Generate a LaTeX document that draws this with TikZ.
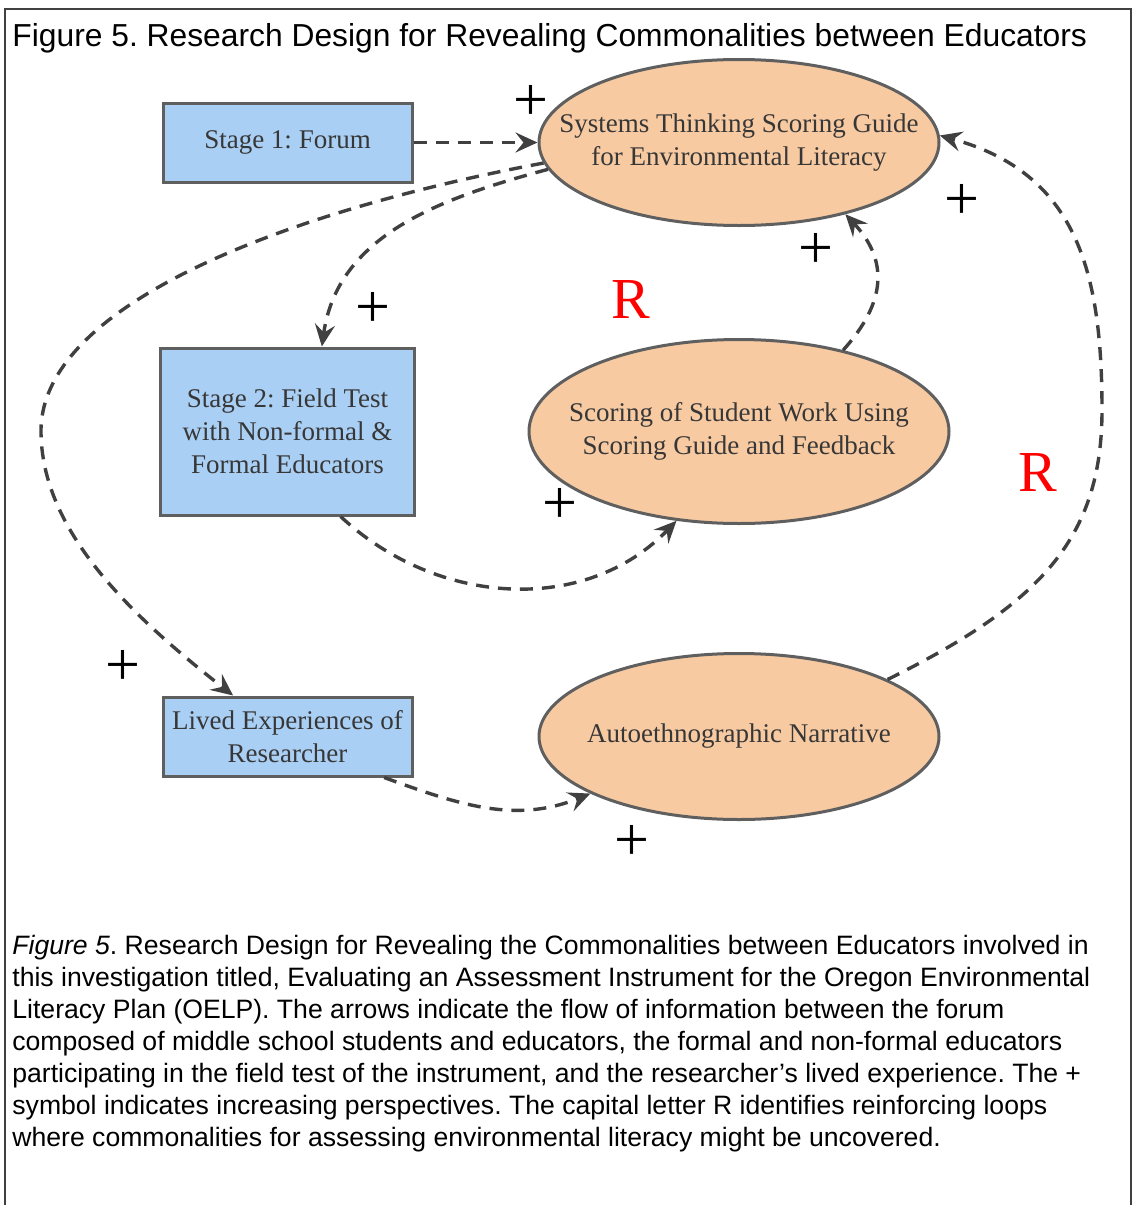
\documentclass[tikz,border=0pt]{standalone}
\usepackage{fontspec}
\setmainfont{Liberation Serif}
\newfontfamily\sansfont{Liberation Sans}
\usepackage{tikz}
\usetikzlibrary{shapes,arrows.meta}
\definecolor{skyblue}{RGB}{170,207,244}
\definecolor{peach}{RGB}{247,202,162}
\definecolor{bordergray}{RGB}{95,95,95}
\definecolor{arrowgray}{RGB}{64,64,64}
\definecolor{textgray}{RGB}{55,55,55}
\newcommand{\nodefont}{\fontsize{13.5pt}{16.6pt}\selectfont}
\newcommand{\headfont}{\sansfont\fontsize{15.9pt}{19pt}\selectfont}
\newcommand{\capfont}{\sansfont\fontsize{13.3pt}{16pt}\selectfont}
\newcommand{\plusfont}{\fontsize{31pt}{31pt}\selectfont}
\newcommand{\loopfont}{\fontsize{29pt}{29pt}\selectfont}
\tikzstyle{flow} = [line width=1.7pt, ->, >={Stealth[length=11pt,width=10pt,inset=4pt]}, color=arrowgray, dash pattern=on 6.5pt off 4.5pt]
\tikzstyle{oval} = [draw=bordergray, ellipse, fill=peach, line width=1.5pt, text=textgray, font=\nodefont, align=center, minimum width=200pt, minimum height=83pt, inner xsep=-40pt, inner ysep=0pt, node distance=225.75pt]
\tikzstyle{stagebox} = [draw=bordergray, rectangle, fill=skyblue, line width=1.5pt, text=textgray, font=\nodefont, align=center, minimum width=124.5pt, minimum height=39.5pt]
\tikzstyle{plus} = [inner sep=0pt, font=\plusfont]
\tikzstyle{loopmark} = [inner sep=0pt, font=\loopfont, text=red]
\frenchspacing

\begin{document}
\begin{tikzpicture}[x=0.5pt, y=-0.5pt]
        \useasboundingbox (0,0) rectangle (1135,1205);
        \draw[line width=0.8pt, black!75] (5,1205) -- (5,9) -- (1131,9) -- (1131,1205);
        \node[anchor=base west, inner sep=0pt, font=\headfont](Title) at (12,46) {Figure 5. Research Design for Revealing Commonalities between Educators};

        \node[stagebox](Forum) at (287.5,142.5) {Stage 1: Forum};
        \node[stagebox, below of=Forum, node distance=144.5pt, minimum width=127pt, minimum height=83.5pt](FieldTest) {Stage 2: Field Test\\with Non-formal \&\\Formal Educators};
        \node[stagebox, below of=FieldTest, node distance=152.5pt](Lived) {Lived Experiences of\\Researcher};
        \node[oval, right of=Forum](Guide) {Systems Thinking Scoring Guide\\for Environmental Literacy};
        \node[oval, right of=FieldTest, minimum width=210pt, minimum height=92pt](Scoring) {Scoring of Student Work Using\\Scoring Guide and Feedback};
        \node[oval, right of=Lived](Auto) {Autoethnographic Narrative};

        \path[flow](Forum.east) edge (Guide);
        \path[flow](Guide.188) edge[out=195, in=82] (FieldTest.68);
        \draw[flow](Guide.186) .. controls (299,208.5) and (41,301) .. (41,431) .. controls (41,531) and (131.6,616) .. (Lived.143);
        \path[flow](FieldTest.-58) edge[out=-43, in=226] (Scoring.235);
        \path[flow](Scoring.38) edge[out=48, in=-47, looseness=1.2] (Guide.-34);
        \path[flow](Lived.-23) edge[out=-20, in=202] (Auto.201);
        \draw[flow](Auto.21) .. controls (1038.5,604.8) and (1102,540) .. (1102,410) .. controls (1102,270) and (1076,173) .. (Guide.2);

        \node[plus](PlusA) at (531,103) {+};
        \node[plus](PlusB) at (962,202) {+};
        \node[plus](PlusC) at (816,251) {+};
        \node[plus](PlusD) at (373,310) {+};
        \node[plus](PlusE) at (560,506) {+};
        \node[plus](PlusF) at (123,668) {+};
        \node[plus](PlusG) at (632,843) {+};
        \node[loopmark](LoopA) at (631,300) {R};
        \node[loopmark](LoopB) at (1038,473) {R};

        \node[anchor=north west, inner sep=0pt, align=left, font=\capfont](Caption) at (12,935) {\textit{Figure 5}. Research Design for Revealing the Commonalities between Educators involved in\\this investigation titled, Evaluating an Assessment Instrument for the Oregon Environmental\\Literacy Plan (OELP). The arrows indicate the flow of information between the forum\\composed of middle school students and educators, the formal and non-formal educators\\participating in the field test of the instrument, and the researcher’s lived experience. The +\\symbol indicates increasing perspectives. The capital letter R identifies reinforcing loops\\where commonalities for assessing environmental literacy might be uncovered.};
    \end{tikzpicture}
\end{document}
